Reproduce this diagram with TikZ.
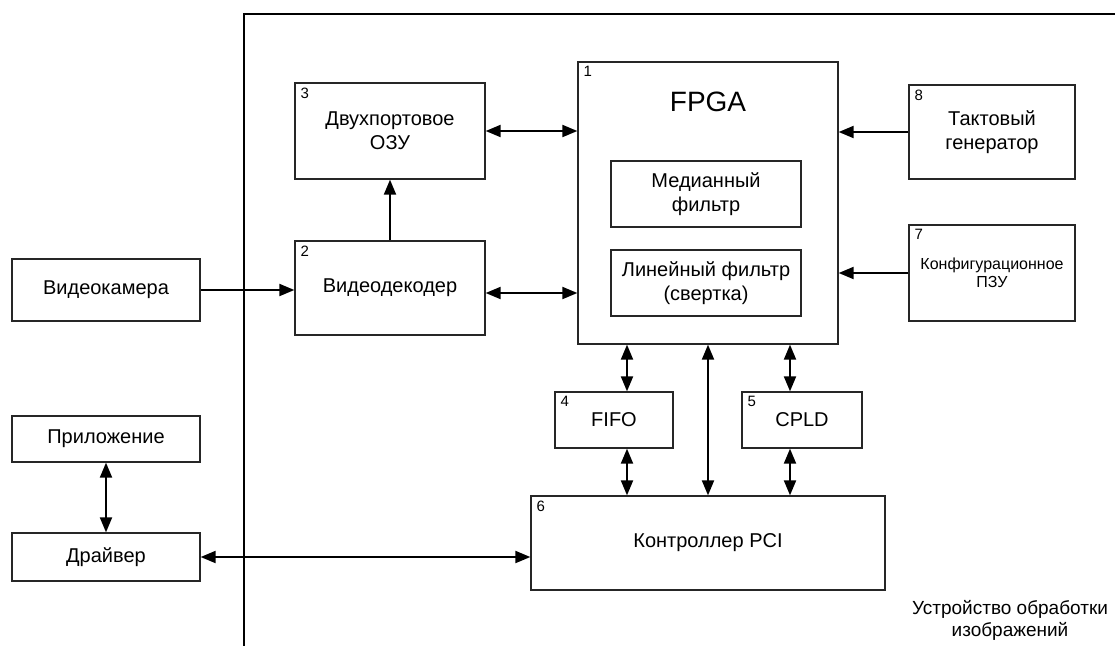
\documentclass[tikz,border=0pt]{standalone}
\usepackage{fontspec}
\setmainfont{Liberation Sans}
\usetikzlibrary{arrows.meta}

\begin{document}
\begin{tikzpicture}[x=1pt, y=-1pt,
    >={Triangle[length=15pt, width=12pt]},
    blk/.style={draw=black!85, line width=1.3pt, rectangle, inner sep=0pt, align=center,
                font=\fontsize{20}{24}\selectfont},
    num/.style={anchor=north west, inner sep=0pt, font=\fontsize{15}{15}\selectfont},
    link/.style={line width=2pt, <->},
    onelink/.style={line width=2pt, ->}]

      \useasboundingbox (0,0) rectangle (1115,646);

      % frame
      \draw[line width=2.4pt] (1115,14) -- (244,14) -- (244,646);

      \node[blk, minimum width=260pt, minimum height=282pt] (fpga) at (708,203) {};
      \node[font=\fontsize{28}{28}\selectfont, inner sep=0pt] (fpgatxt) at (708,102) {FPGA};
      \node[blk, minimum width=190pt, minimum height=66pt] (med) at (706,194) {Медианный\\фильтр};
      \node[blk, minimum width=190pt, minimum height=66pt] (lin) at (706,283) {Линейный фильтр\\(свертка)};

      \node[blk, minimum width=190pt, minimum height=96pt] (ozu) at (390,131) {Двухпортовое\\ОЗУ};
      \node[blk, minimum width=190pt, minimum height=94pt] (vdec) at (390,288) {Видеодекодер};
      \node[blk, minimum width=188pt, minimum height=62pt] (cam) at (106,290) {Видеокамера};

      \node[blk, minimum width=166pt, minimum height=94pt] (gen) at (992,132) {Тактовый\\генератор};
      \node[blk, minimum width=166pt, minimum height=96pt, font=\fontsize{16}{18}\selectfont] (rom) at (992,273) {Конфигурационное\\ПЗУ};

      \node[blk, minimum width=118pt, minimum height=56pt] (fifo) at (614,420) {FIFO};
      \node[blk, minimum width=120pt, minimum height=56pt] (cpld) at (802,420) {CPLD};
      \node[blk, minimum width=354pt, minimum height=94pt] (pci) at (708,543) {Контроллер PCI};

      \node[blk, minimum width=188pt, minimum height=46pt] (app) at (106,439) {Приложение};
      \node[blk, minimum width=188pt, minimum height=48pt] (drv) at (106,557) {Драйвер};

      \node[num] (n1) at ([shift={(6,5)}]fpga.north west) {1};
      \node[num] (n2) at ([shift={(6,5)}]vdec.north west) {2};
      \node[num] (n3) at ([shift={(6,5)}]ozu.north west) {3};
      \node[num] (n4) at ([shift={(6,5)}]fifo.north west) {4};
      \node[num] (n5) at ([shift={(6,5)}]cpld.north west) {5};
      \node[num] (n6) at ([shift={(6,5)}]pci.north west) {6};
      \node[num] (n7) at ([shift={(6,5)}]rom.north west) {7};
      \node[num] (n8) at ([shift={(6,5)}]gen.north west) {8};

      \node[align=center, inner sep=0pt, font=\fontsize{19}{22}\selectfont] (dev) at (1010,620) {Устройство обработки\\изображений};

      \draw[link] (ozu.east) -- (ozu.east -| fpga.west);
      \draw[onelink] (vdec.north) -- (ozu.south);
      \draw[link] ([yshift=-5]vdec.east) -- ([yshift=-5]vdec.east -| fpga.west);
      \draw[onelink] (cam.east) -- (cam.east -| vdec.west);
      \draw[onelink] (gen.west) -- (gen.west -| fpga.east);
      \draw[onelink] (rom.west) -- (rom.west -| fpga.east);

      \draw[link] ([xshift=13]fifo.north |- fpga.south) -- ([xshift=13]fifo.north);
      \draw[link] ([xshift=13]fifo.south) -- ([xshift=13]fifo.south |- pci.north);
      \draw[link] ([xshift=-12]cpld.north |- fpga.south) -- ([xshift=-12]cpld.north);
      \draw[link] ([xshift=-12]cpld.south) -- ([xshift=-12]cpld.south |- pci.north);
      \draw[link] (fpga.south) -- (pci.north);

      \draw[link] (app.south) -- (drv.north);
      \draw[link] (drv.east) -- (drv.east -| pci.west);

    \end{tikzpicture}
\end{document}
